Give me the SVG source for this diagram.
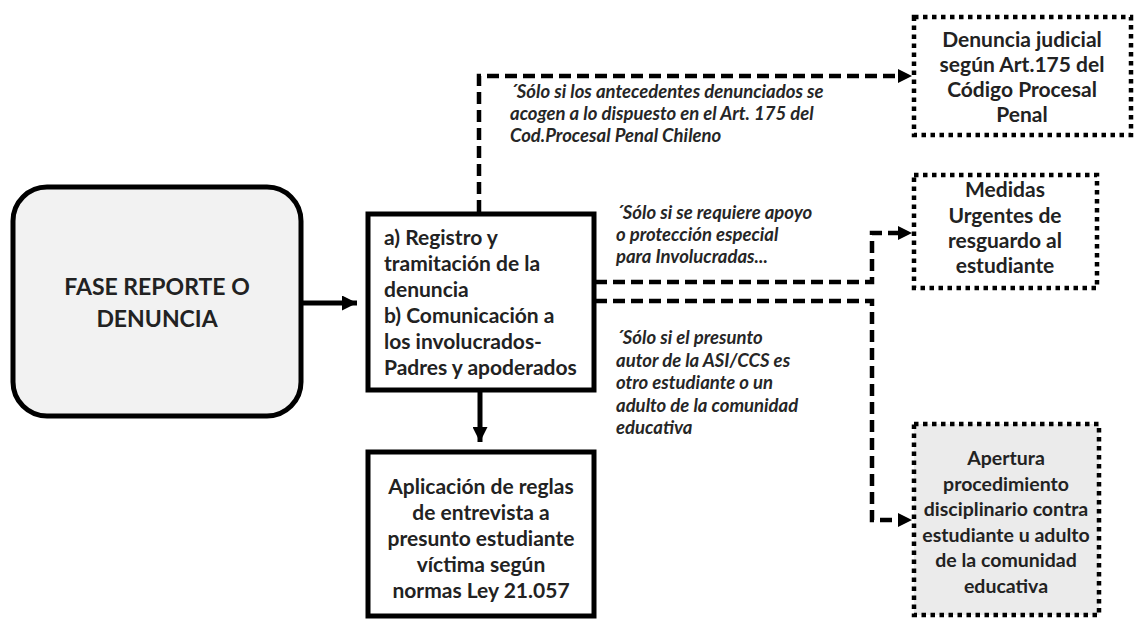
<svg xmlns="http://www.w3.org/2000/svg" width="1137" height="625" viewBox="0 0 1137 625">
<style>
.box{fill:#fff;stroke:#000;stroke-width:5}
.dot{stroke:#000;stroke-width:4.5;stroke-dasharray:4.5 4.5}
.t{font-family:Lato,"Liberation Sans",sans-serif;font-weight:bold;font-size:21px;fill:#222}
.c{text-anchor:middle}
.big{font-size:23px}
.sm{font-size:19.5px}
.i{font-family:Lato,"Liberation Sans",sans-serif;font-weight:bold;font-style:italic;font-size:18.5px;fill:#262626}
.solid{fill:none;stroke:#000;stroke-width:5}
.dash{fill:none;stroke:#000;stroke-width:4.5;stroke-dasharray:12 6}
</style>
<defs>
<marker id="ahs" viewBox="0 0 10 10" refX="10" refY="5" markerWidth="15" markerHeight="15" markerUnits="userSpaceOnUse" orient="auto"><path d="M0,0L10,5L0,10z" fill="#000"/></marker>
</defs>
<rect width="1137" height="625" fill="#fff"/>
<g id="connectors">
<path class="solid" d="M303,303H357" marker-end="url(#ahs)"/>
<path class="solid" d="M480,392V442" marker-end="url(#ahs)"/>
<path class="dash" d="M479,212V76H903"/>
<path d="M898,69L912,76L898,83z" fill="#000"/>
<path class="dash" d="M595,282H872V233H900"/>
<path d="M898,226L912,233L898,240z" fill="#000"/>
<path class="dash" d="M595,301H872V520H900"/>
<path d="M898,513L912,520L898,527z" fill="#000"/>
</g>
<g id="fase">
<rect x="13" y="187" width="288" height="229" rx="34" fill="#f2f2f2" stroke="#000" stroke-width="5"/>
<text class="t c big" x="157" y="295">FASE REPORTE O</text>
<text class="t c big" x="157" y="327">DENUNCIA</text>
</g>
<g id="registro">
<rect class="box" x="368" y="214" width="226" height="176"/>
<text class="t" x="384" y="245">a) Registro y</text>
<text class="t" x="384" y="271">tramitación de la</text>
<text class="t" x="384" y="297">denuncia</text>
<text class="t" x="384" y="323">b) Comunicación a</text>
<text class="t" x="384" y="349">los involucrados-</text>
<text class="t" x="384" y="375">Padres y apoderados</text>
</g>
<g id="aplicacion">
<rect class="box" x="368" y="452" width="226" height="164"/>
<text class="t c" x="481" y="494">Aplicación de reglas</text>
<text class="t c" x="481" y="520">de entrevista a</text>
<text class="t c" x="481" y="546">presunto estudiante</text>
<text class="t c" x="481" y="572">víctima según</text>
<text class="t c" x="481" y="598">normas Ley 21.057</text>
</g>
<g id="denuncia-judicial">
<rect class="dot" x="914" y="17" width="217" height="118" fill="#fff"/>
<text class="t c" x="1022" y="47">Denuncia judicial</text>
<text class="t c" x="1022" y="72">según Art.175 del</text>
<text class="t c" x="1022" y="97">Código Procesal</text>
<text class="t c" x="1022" y="122">Penal</text>
</g>
<g id="medidas">
<rect class="dot" x="914" y="175" width="183" height="113" fill="#fff"/>
<text class="t c" x="1005" y="197">Medidas</text>
<text class="t c" x="1005" y="223">Urgentes de</text>
<text class="t c" x="1005" y="248">resguardo al</text>
<text class="t c" x="1005" y="273">estudiante</text>
</g>
<g id="apertura">
<rect class="dot" x="914" y="424" width="185" height="191" fill="#ebebeb"/>
<text class="t c sm" x="1006" y="465">Apertura</text>
<text class="t c sm" x="1006" y="491">procedimiento</text>
<text class="t c sm" x="1006" y="516">disciplinario contra</text>
<text class="t c sm" x="1006" y="542">estudiante u adulto</text>
<text class="t c sm" x="1006" y="567">de la comunidad</text>
<text class="t c sm" x="1006" y="593">educativa</text>
</g>
<g id="labels">
<text class="i" x="510" y="98">´Sólo si los antecedentes  denunciados se</text>
<text class="i" x="510" y="120">acogen a lo dispuesto en el Art. 175 del</text>
<text class="i" x="510" y="142">Cod.Procesal Penal Chileno</text>
<text class="i" x="616" y="219">´Sólo si se requiere apoyo</text>
<text class="i" x="616" y="241">o protección especial</text>
<text class="i" x="616" y="263">para Involucradas...</text>
<text class="i" x="616" y="344">´Sólo si el presunto</text>
<text class="i" x="616" y="367">autor de la ASI/CCS es</text>
<text class="i" x="616" y="389">otro estudiante o un</text>
<text class="i" x="616" y="412">adulto de la comunidad</text>
<text class="i" x="616" y="434">educativa</text>
</g>
</svg>
